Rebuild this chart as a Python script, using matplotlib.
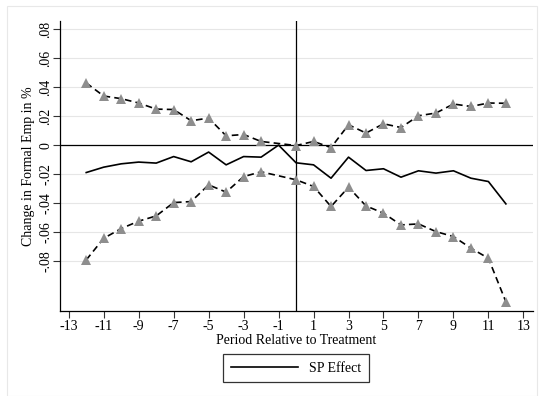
import matplotlib.pyplot as plt
from matplotlib.patches import Rectangle

plt.rcParams["font.family"] = ["Liberation Serif", "DejaVu Serif"]
plt.rcParams["axes.unicode_minus"] = False

# ============================================================
# Data
# ============================================================
period = list(range(-12, 13))
effect = [-0.0189, -0.0152, -0.0129, -0.0117, -0.0124, -0.0079, -0.0115,
          -0.0048, -0.0136, -0.0079, -0.0083, 0.0, -0.0122, -0.0136,
          -0.0228, -0.0083, -0.0175, -0.0163, -0.0221, -0.0177, -0.0193,
          -0.0177, -0.0228, -0.0251, -0.0405]

# confidence bands skip the reference period (-1)
band_period = [p for p in period if p != -1]
upper = [0.0428, 0.0338, 0.0320, 0.0290, 0.0248, 0.0245, 0.0168, 0.0186,
         0.0064, 0.0073, 0.0025, -0.0003, 0.0025, -0.0017, 0.0140,
         0.0083, 0.0147, 0.0121, 0.0202, 0.0221, 0.0283, 0.0266, 0.0290,
         0.0288]
lower = [-0.0791, -0.0642, -0.0575, -0.0524, -0.0488, -0.0396, -0.0389,
         -0.0274, -0.0324, -0.0217, -0.0184, -0.0239, -0.0285, -0.0423,
         -0.0290, -0.0419, -0.0469, -0.0550, -0.0543, -0.0596, -0.0630,
         -0.0710, -0.0780, -0.1080]

xticks = list(range(-13, 14, 2))
xtick_labels = [str(t) for t in xticks]
yticks = [-0.08, -0.06, -0.04, -0.02, 0, 0.02, 0.04, 0.06, 0.08]
ytick_labels = ["-.08", "-.06", "-.04", "-.02", "0", ".02", ".04", ".06", ".08"]

FONT_SIZE = 10

# ============================================================
# Plot
# ============================================================
fig = plt.figure(figsize=(5.39, 3.96), dpi=100)
fig.patches.append(Rectangle((7 / 539, 0), 1 - 9 / 539, 1 - 6 / 396,
                             transform=fig.transFigure, fill=False,
                             edgecolor="#e8e8e8", linewidth=0.8))

ax = fig.add_axes([60 / 539, 1 - 311 / 396, 473 / 539, 290 / 396])

for y in yticks:
    ax.axhline(y, color="#e6e6e6", linewidth=0.8, zorder=0)
ax.axhline(0, color="black", linewidth=0.9, zorder=1)
ax.axvline(0, color="black", linewidth=0.9, zorder=1)

ax.plot(period, effect, color="black", linewidth=1.2, zorder=3,
        label="SP Effect")
for band in (upper, lower):
    ax.plot(band_period, band, color="black", linewidth=1.2,
            linestyle=(0, (4, 2.5)), zorder=2)
    ax.plot(band_period, band, linestyle="none", marker="^",
            markersize=6.5, color="#8e8e8e", markeredgewidth=0, zorder=4)

ax.set_xlim(-13.5, 13.55)
ax.set_ylim(-0.1143, 0.0855)
ax.set_xticks(xticks)
ax.set_xticklabels(xtick_labels)
ax.set_yticks(yticks)
ax.set_yticklabels(ytick_labels, rotation=90, va="center")
ax.tick_params(labelsize=FONT_SIZE, length=5, width=0.8, color="#333333")
ax.tick_params(axis="x", pad=1.5)
ax.tick_params(axis="y", pad=0.5)

ax.spines["top"].set_visible(False)
ax.spines["right"].set_visible(False)
ax.spines["left"].set_linewidth(0.9)
ax.spines["bottom"].set_linewidth(0.9)

ax.set_xlabel("Period Relative to Treatment", fontsize=FONT_SIZE, labelpad=0.5)
ax.set_ylabel("Change in Formal Emp in %", fontsize=FONT_SIZE, labelpad=3)

leg = fig.legend(loc="center", bbox_to_anchor=(296 / 539, 1 - 368 / 396),
                 fontsize=FONT_SIZE, frameon=True, fancybox=False,
                 edgecolor="black", handlelength=4.8, borderpad=0.55)
leg.get_frame().set_linewidth(0.9)

fig.savefig("out.png", dpi=100)
